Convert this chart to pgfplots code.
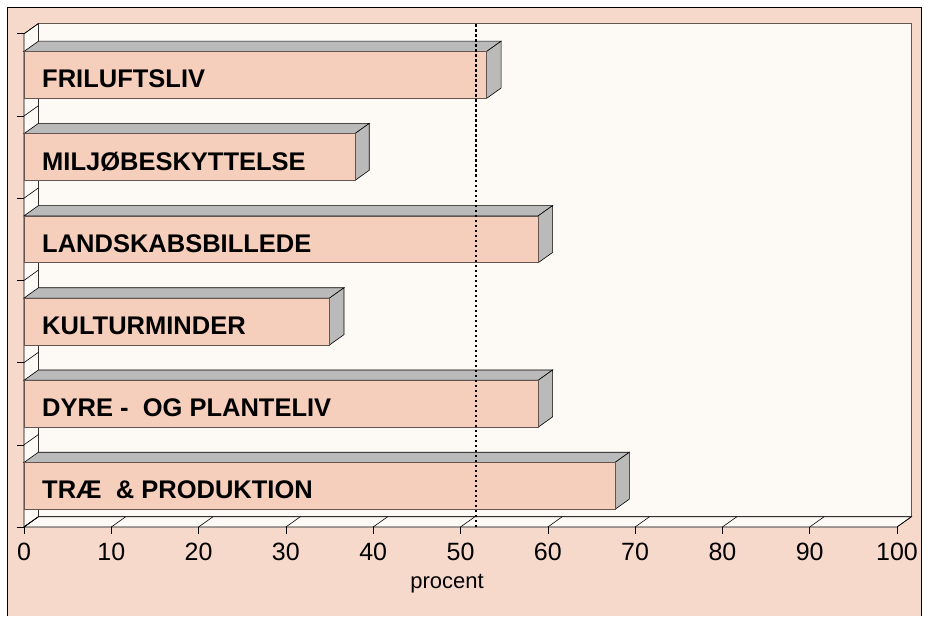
\documentclass[border=0pt]{standalone}
\usepackage{fontspec}
\setmainfont{Liberation Sans}
\usepackage{pgfplots}
\usepackage{pgfplotstable}
\pgfplotsset{compat=1.18}
\definecolor{bgpeach}{RGB}{247,217,204}
\definecolor{barpeach}{RGB}{246,206,188}
\definecolor{wall}{RGB}{253,250,246}
\definecolor{facegray}{RGB}{186,186,186}
\definecolor{frameline}{RGB}{100,85,80}

\pgfplotstableread{
k v
0 67.7
1 58.9
2 35.0
3 58.9
4 37.9
5 53.0
}\bars

\def\dx{1.65}
\def\dy{0.125}
\def\hh{0.285}

\begin{document}
\begin{tikzpicture}
% page and outer frame (1pt = 1px; axis origin at px (24,527))
\fill[white] (-24pt,-89pt) rectangle (907pt,527pt);
\fill[bgpeach] (-16pt,-89pt) rectangle (897pt,519pt);
\draw[black, line width=1pt] (-16pt,-89pt) -- (-16pt,519pt) -- (897pt,519pt) -- (897pt,-89pt);
\begin{axis}[
  anchor=south west, at={(0pt,0pt)},
  x=8.73pt, y=82.2pt,
  xmin=0, xmax=100, ymin=-0.5, ymax=5.5,
  clip=false,
  axis on top=true,
  axis line style={draw=none},
  xtick={0,10,...,100},
  ytick=\empty,
  xtick pos=bottom,
  tick align=outside,
  major tick length=7pt,
  xtick style={black, line width=0.6pt},
  xticklabel style={font=\fontsize{25}{28}\selectfont, yshift=-6pt},
  /pgf/number format/assume math mode=true,
]
% back wall
\filldraw[fill=wall, draw=frameline, line width=0.8pt] (axis cs:\dx,-0.5+\dy) rectangle (axis cs:100+\dx,5.5+\dy);
% left wall
\filldraw[fill=wall, draw=black, line width=0.6pt] (axis cs:0,-0.5) -- (axis cs:\dx,-0.5+\dy) -- (axis cs:\dx,5.5+\dy) -- (axis cs:0,5.5) -- cycle;
% floor
\filldraw[fill=wall, draw=black, line width=0.6pt] (axis cs:0,-0.5) -- (axis cs:100,-0.5) -- (axis cs:100+\dx,-0.5+\dy) -- (axis cs:\dx,-0.5+\dy) -- cycle;
\pgfplotsinvokeforeach{0,10,...,100}{\draw[black, line width=0.6pt] (axis cs:#1,-0.5) -- (axis cs:#1+\dx,-0.5+\dy);}
\pgfplotsinvokeforeach{-0.5,0.5,1.5,2.5,3.5,4.5,5.5}{%
  \draw[black, line width=0.6pt] (axis cs:0,#1) -- (axis cs:\dx,#1+\dy);
  \draw[black, line width=0.6pt] (axis cs:0,#1) -- ([xshift=-7pt]axis cs:0,#1);}
% bars
\pgfplotsinvokeforeach{0,...,5}{%
  \pgfplotstablegetelem{#1}{v}\of\bars
  \pgfmathsetmacro\va{\pgfplotsretval}
  \pgfmathsetmacro\vb{\va+\dx}
  \pgfmathsetmacro\ya{#1-\hh}
  \pgfmathsetmacro\yb{#1+\hh}
  \pgfmathsetmacro\yc{#1+\hh+\dy}
  \pgfmathsetmacro\yd{#1-\hh+\dy}
  \edef\tmp{%
    \noexpand\addplot[fill=facegray, draw=black, line width=0.6pt] coordinates {(0,\yb) (\va,\yb) (\vb,\yc) (\dx,\yc)} -- cycle;
    \noexpand\addplot[fill=facegray, draw=black, line width=0.6pt] coordinates {(\va,\ya) (\vb,\yd) (\vb,\yc) (\va,\yb)} -- cycle;
    \noexpand\addplot[fill=barpeach, draw=frameline, line width=0.6pt] coordinates {(0,\ya) (\va,\ya) (\va,\yb) (0,\yb)} -- cycle;
  }\tmp
}
% labels
\tikzset{barlab/.style={anchor=base west, font=\fontsize{25.5}{29}\selectfont\bfseries, xshift=18pt, yshift=-13pt, inner sep=0pt}}
\node[barlab] at (axis cs:0,5) {FRILUFTSLIV};
\node[barlab] at (axis cs:0,4) {MILJØBESKYTTELSE};
\node[barlab] at (axis cs:0,3) {LANDSKABSBILLEDE};
\node[barlab] at (axis cs:0,2) {KULTURMINDER};
\node[barlab] at (axis cs:0,1) {DYRE -\ \ OG PLANTELIV};
\node[barlab] at (axis cs:0,0) {TRÆ\ \ \& PRODUKTION};
% reference line
\draw[black, line width=2pt, dash pattern=on 2.5pt off 2.5pt] (axis cs:51.8,-0.5) -- (axis cs:51.8,5.5+\dy);
% axis title
\node[font=\fontsize{22}{26}\selectfont] at (axis cs:48.45,-1.185) {procent};
\end{axis}
\end{tikzpicture}
\end{document}
